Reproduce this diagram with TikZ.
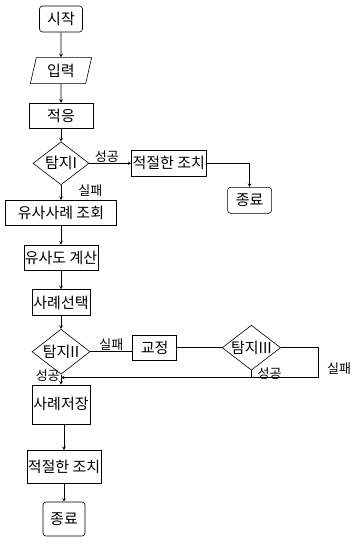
\documentclass[tikz,border=0pt]{standalone}
\usepackage{fontspec}
\setmainfont{Noto Sans CJK KR}
\usepackage{tikz}
\usetikzlibrary{shapes.geometric, arrows.meta, positioning}

\begin{document}
\begin{tikzpicture}[node distance=15pt, every node/.style={font=\fontsize{15}{17}\selectfont}]
    % Styles
    \tikzstyle{terminal} = [rectangle, rounded corners=3pt, draw, line width=0.6pt, inner sep=1pt, align=center]
    \tikzstyle{process} = [rectangle, draw, line width=0.6pt, inner sep=1pt, align=center]
    \tikzstyle{io} = [trapezium, trapezium left angle=77, trapezium right angle=103, draw, line width=0.6pt, inner sep=1pt]
    \tikzstyle{decision} = [diamond, draw, line width=0.6pt, inner sep=0pt, aspect=1.3]
    \tikzstyle{flow} = [->, >=stealth, line width=0.6pt]
    \tikzstyle{link} = [line width=0.6pt]
    \tikzstyle{outcome} = [font=\fontsize{13}{15}\selectfont, inner sep=1pt]

    \useasboundingbox (0,0) rectangle (351pt,-551pt);

    % Nodes
    \node[terminal, minimum width=43pt, minimum height=26pt] (start) at (61pt,-19pt) {시작};
    \node[io, below=25pt of start, minimum width=57pt, minimum height=26pt] (input) {입력};
    \node[process, below=19pt of input, minimum width=64pt, minimum height=25pt] (adapt) {적응};
    \node[decision, below=13pt of adapt, minimum width=56pt, minimum height=43pt] (detect1) {탐지I};

    \node[process, right=42pt of detect1, minimum width=73pt, minimum height=26pt] (act1) {적절한 조치};
    \node[terminal, right=21pt of act1, yshift=-37pt, minimum width=44pt, minimum height=26pt] (end1) {종료};

    \node[process, below=15pt of detect1, minimum width=111pt, minimum height=25pt] (lookup) {유사사례 조회};
    \node[process, below=19pt of lookup, minimum width=69pt, minimum height=25pt] (simcalc) {유사도 계산};
    \node[process, below=19pt of simcalc, minimum width=58pt, minimum height=26pt] (select) {사례선택};
    \node[decision, below=13pt of select, minimum width=58pt, minimum height=45pt] (detect2) {탐지II};

    \node[process, right=42pt of detect2, yshift=4pt, minimum width=44pt, minimum height=25pt] (fix) {교정};
    \node[decision, right=45pt of fix, minimum width=56pt, minimum height=44pt] (detect3) {탐지III};

    \coordinate[below=3pt of detect2.south] (merge);
    \node[process, below=10pt of detect2, minimum width=58pt, minimum height=39pt] (save) {사례저장};
    \node[process, below=26pt of save, xshift=3pt, minimum width=72pt, minimum height=33pt] (act2) {적절한 조치};
    \node[terminal, below=18pt of act2, minimum width=42pt, minimum height=34pt] (end2) {종료};

    % Connections
    \draw[flow] (start) -- (input);
    \draw[flow] (input) -- (adapt);
    \draw[flow] (adapt) -- (detect1);
    \draw[flow] (detect1) -- node[outcome, above, pos=0.42] {성공} (act1);
    \draw[flow] (act1.east) -| (end1.north);
    \draw[flow] (detect1) -- node[outcome, right=16pt, pos=0.4] {실패} (lookup);
    \draw[flow] (lookup) -- (simcalc);
    \draw[flow] (simcalc) -- (select);
    \draw[flow] (select) -- (detect2);

    \draw[link] (detect2.east) -- node[outcome, above] {실패} (detect2.east -| fix.west);
    \draw[link] (fix) -- (detect3);
    \draw[flow] (detect3.east) -- ++(37pt,0) |- node[outcome, right, pos=0.35, xshift=8pt] {실패} (merge);
    \draw[link] (detect3.south) -- node[outcome, right, xshift=5pt] {성공} (detect3.south |- merge);

    \draw[flow] (detect2) -- node[outcome, left, pos=0.1] {성공} (save);
    \draw[flow] (save.south -| act2.north) -- (act2);
    \draw[flow] (act2) -- (end2);
\end{tikzpicture}
\end{document}
